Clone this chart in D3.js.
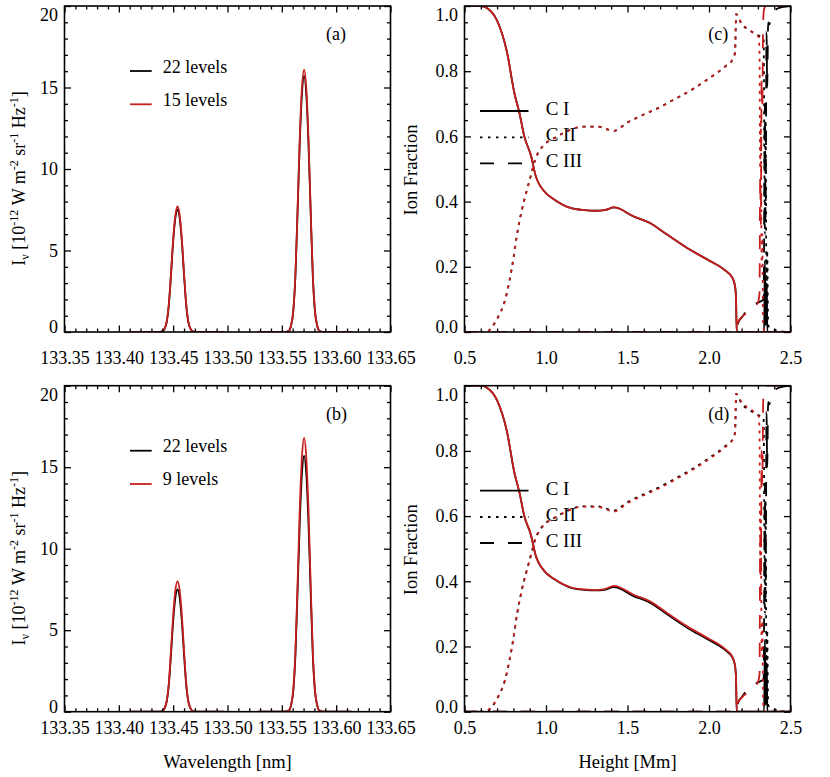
<!DOCTYPE html>
<html>
<head>
<meta charset="utf-8">
<script src="https://cdn.jsdelivr.net/npm/d3@7"></script>
<style>
  body { margin: 0; background: #fff; }
  svg { font-family: "Liberation Serif", "Times New Roman", serif; }
</style>
</head>
<body>
<div class="chart"></div>
<script>
// ---- line profiles, panels (a) and (b) ----
var wave1 = [133.410, 133.436, 133.440, 133.442, 133.444, 133.446, 133.448, 133.450, 133.452, 133.454,
             133.456, 133.458, 133.460, 133.462, 133.464, 133.466, 133.468, 133.472, 133.497];
var wave2 = [133.528, 133.552, 133.5565, 133.5585, 133.5605, 133.5625, 133.5645, 133.5665, 133.5685, 133.5705,
             133.5725, 133.5745, 133.5765, 133.5785, 133.5805, 133.5825, 133.5845, 133.589, 133.614];

var int22Line1 = [0, 0, 0.04, 0.19, 0.60, 1.65, 3.50, 5.55, 6.98, 7.50, 6.98, 5.55, 3.50, 1.65, 0.60, 0.19, 0.04, 0, 0];
var int15Line1 = [0, 0, 0.04, 0.19, 0.62, 1.70, 3.60, 5.70, 7.16, 7.70, 7.16, 5.70, 3.60, 1.70, 0.62, 0.19, 0.04, 0, 0];
var int9Line1  = [0, 0, 0.04, 0.20, 0.64, 1.76, 3.76, 5.92, 7.44, 8.00, 7.44, 5.92, 3.76, 1.76, 0.64, 0.20, 0.04, 0, 0];

var int22Line2 = [0, 0, 0.08, 0.40, 1.25, 3.45, 7.40, 11.60, 14.60, 15.70, 14.60, 11.60, 7.40, 3.45, 1.25, 0.40, 0.08, 0, 0];
var int15Line2 = [0, 0, 0.08, 0.40, 1.29, 3.54, 7.57, 11.90, 14.97, 16.10, 14.97, 11.90, 7.57, 3.54, 1.29, 0.40, 0.08, 0, 0];
var int9Line2  = [0, 0, 0.08, 0.42, 1.34, 3.70, 7.90, 12.43, 15.62, 16.80, 15.62, 12.43, 7.90, 3.70, 1.34, 0.42, 0.08, 0, 0];

// ---- ion fractions [height Mm, fraction], panels (c) and (d) ----
var cI_22 = [[0.50,1.000],[0.60,1.000],[0.64,0.993],[0.70,0.955],[0.76,0.860],[0.806,0.733],[0.837,0.672],
  [0.867,0.600],[0.909,0.539],[0.935,0.482],[0.99,0.431],[1.052,0.406],[1.155,0.380],[1.237,0.374],[1.30,0.372],
  [1.36,0.374],[1.417,0.382],[1.54,0.354],[1.632,0.336],[1.745,0.298],[1.868,0.257],[1.991,0.222],[2.094,0.191],
  [2.145,0.165],[2.160,0.140],[2.166,0.100],[2.170,0.000],[2.338,0.000],[2.343,0.220],[2.348,0.020],
  [2.354,0.150],[2.358,0.000],[2.500,0.000]];
var cII_22 = [[0.50,0],[0.64,0],[0.66,0.010],[0.70,0.040],[0.75,0.100],[0.80,0.225],[0.822,0.298],[0.85,0.370],
  [0.878,0.426],[0.91,0.485],[0.933,0.528],[0.96,0.556],[0.99,0.575],[1.052,0.595],[1.113,0.612],[1.226,0.630],
  [1.32,0.630],[1.417,0.617],[1.50,0.643],[1.60,0.667],[1.70,0.690],[1.80,0.717],[1.90,0.745],[2.00,0.778],
  [2.10,0.815],[2.15,0.840],[2.160,0.860],[2.167,0.975],[2.20,0.945],[2.25,0.925],[2.30,0.910],[2.335,0.900],
  [2.343,0.300],[2.347,0.650],[2.353,0.080],[2.357,0.250],[2.363,0.020],
  [2.380,0.013],[2.420,0.004],[2.500,0.000]];
var cIII_22 = [[0.50,0],[2.170,0],[2.180,0.030],[2.200,0.044],[2.260,0.080],[2.300,0.090],[2.335,0.100],
  [2.343,0.700],[2.347,0.350],[2.353,0.920],[2.357,0.750],[2.363,0.950],
  [2.370,0.943],[2.380,0.963],[2.398,0.983],[2.430,0.994],[2.500,1.000]];

var cI_15 = [[0.50,1.000],[0.60,1.000],[0.64,0.993],[0.70,0.955],[0.76,0.860],[0.806,0.733],[0.837,0.672],
  [0.867,0.600],[0.909,0.539],[0.935,0.482],[0.99,0.431],[1.052,0.406],[1.155,0.380],[1.237,0.374],[1.30,0.372],
  [1.36,0.374],[1.417,0.382],[1.54,0.354],[1.632,0.336],[1.745,0.298],[1.868,0.257],[1.991,0.222],[2.094,0.191],
  [2.145,0.165],[2.160,0.140],[2.166,0.100],[2.170,0.000],[2.500,0.000]];
var cII_15 = [[0.50,0],[0.64,0],[0.66,0.010],[0.70,0.040],[0.75,0.100],[0.80,0.225],[0.822,0.298],[0.85,0.370],
  [0.878,0.426],[0.91,0.485],[0.933,0.528],[0.96,0.556],[0.99,0.575],[1.052,0.595],[1.113,0.612],[1.226,0.630],
  [1.32,0.630],[1.417,0.617],[1.50,0.643],[1.60,0.667],[1.70,0.690],[1.80,0.717],[1.90,0.745],[2.00,0.778],
  [2.10,0.815],[2.15,0.840],[2.160,0.860],[2.166,0.975],[2.19,0.955],[2.23,0.932],[2.28,0.915],[2.305,0.905],
  [2.310,0.850],[2.314,0.500],[2.318,0.650],[2.323,0.200],[2.327,0.300],[2.332,0.030],
  [2.340,0.000],[2.500,0.000]];
var cIII_15 = [[0.50,0],[2.170,0],[2.176,0.028],[2.200,0.045],[2.250,0.066],[2.300,0.090],[2.310,0.120],
  [2.314,0.480],[2.318,0.330],[2.323,0.780],[2.327,0.680],[2.332,0.950],[2.338,0.990],[2.348,1.000],[2.500,1.000]];

var cI_9 = [[0.50,1.000],[0.60,1.000],[0.64,0.993],[0.70,0.955],[0.76,0.861],[0.806,0.734],[0.837,0.673],
  [0.867,0.601],[0.909,0.540],[0.935,0.483],[0.99,0.432],[1.052,0.407],[1.155,0.381],[1.237,0.375],[1.30,0.373],
  [1.36,0.376],[1.417,0.386],[1.54,0.358],[1.632,0.340],[1.745,0.302],[1.868,0.261],[1.991,0.226],[2.094,0.194],
  [2.145,0.167],[2.160,0.141],[2.166,0.100],[2.170,0.000],[2.500,0.000]];
var cII_9 = [[0.50,0],[0.63,0],[0.65,0.008],[0.70,0.040],[0.75,0.100],[0.80,0.224],[0.822,0.297],[0.85,0.369],
  [0.878,0.425],[0.91,0.484],[0.933,0.527],[0.96,0.555],[0.99,0.574],[1.052,0.594],[1.113,0.611],[1.226,0.629],
  [1.32,0.628],[1.417,0.614],[1.50,0.640],[1.60,0.664],[1.70,0.687],[1.80,0.714],[1.90,0.742],[2.00,0.775],
  [2.10,0.812],[2.15,0.838],[2.160,0.858],[2.166,0.975],[2.19,0.957],[2.23,0.935],[2.28,0.918],[2.305,0.905],
  [2.310,0.860],[2.314,0.450],[2.318,0.620],[2.323,0.180],[2.327,0.280],[2.333,0.020],
  [2.340,0.000],[2.500,0.000]];
var cIII_9 = [[0.50,0],[2.170,0],[2.176,0.027],[2.200,0.043],[2.250,0.064],[2.300,0.090],[2.310,0.115],
  [2.314,0.530],[2.318,0.360],[2.323,0.800],[2.327,0.700],[2.333,0.960],[2.339,0.992],[2.348,1.000],[2.500,1.000]];

// ---- ticks ----
var waveTicks = [133.35, 133.40, 133.45, 133.50, 133.55, 133.60, 133.65];
var intensityTicks = [0, 5, 10, 15, 20];
var heightTicks = [0.5, 1.0, 1.5, 2.0, 2.5];
var fractionTicks = [0.0, 0.2, 0.4, 0.6, 0.8, 1.0];

var waveMinor = d3.range(31).filter(i => i % 5).map(i => 133.35 + i * 0.01);
var intensityMinor = d3.range(21).filter(i => i % 5);
var heightMinor = d3.range(21).filter(i => i % 5).map(i => 0.5 + i * 0.1);
var fractionMinor = d3.range(21).filter(i => i % 4).map(i => i * 0.05);

var svgWidth = 830, svgHeight = 777;
var size = 326;
var redColor = "#c81e1e";
var font = "'Liberation Serif', 'Times New Roman', serif";

var svg = d3.select(".chart").append("svg")
  .attr("width", svgWidth)
  .attr("height", svgHeight);

var leftCols = [64.5, 464.5];
var topRows = [6, 385.7];

// draws inward ticks on all four sides plus the frame
function drawAxes(g, x, y, xMajor, xMinor, yMajor, yMinor, xFmt, yFmt, xPad) {
  function style(ax) {
    ax.select(".domain").remove();
    ax.attr("font-size", 18).attr("font-family", font);
    ax.selectAll("line").attr("stroke", "#000").attr("stroke-width", 1.3);
    ax.selectAll("text").attr("fill", "#000");
    return ax;
  }
  style(g.append("g").attr("transform", `translate(0,${size})`)
    .call(d3.axisBottom(x).tickValues(xMajor).tickFormat(xFmt).tickSizeInner(-6.5).tickSizeOuter(0).tickPadding(xPad)));
  style(g.append("g").attr("transform", `translate(0,${size})`)
    .call(d3.axisBottom(x).tickValues(xMinor).tickFormat("").tickSizeInner(-3.5).tickSizeOuter(0)));
  style(g.append("g")
    .call(d3.axisTop(x).tickValues(xMajor).tickFormat("").tickSizeInner(-6.5).tickSizeOuter(0)));
  style(g.append("g")
    .call(d3.axisTop(x).tickValues(xMinor).tickFormat("").tickSizeInner(-3.5).tickSizeOuter(0)));

  var yAx = style(g.append("g")
    .call(d3.axisLeft(y).tickValues(yMajor).tickFormat(yFmt).tickSizeInner(-6.5).tickSizeOuter(0).tickPadding(6.5)));
  // keep the end labels inside the frame height, as in the original
  yAx.selectAll("text").attr("transform", (d, i) =>
    i === 0 ? "translate(0,-5)" : (i === yMajor.length - 1 ? "translate(0,9)" : null));
  style(g.append("g")
    .call(d3.axisLeft(y).tickValues(yMinor).tickFormat("").tickSizeInner(-3.5).tickSizeOuter(0)));
  style(g.append("g").attr("transform", `translate(${size},0)`)
    .call(d3.axisRight(y).tickValues(yMajor).tickFormat("").tickSizeInner(-6.5).tickSizeOuter(0)));
  style(g.append("g").attr("transform", `translate(${size},0)`)
    .call(d3.axisRight(y).tickValues(yMinor).tickFormat("").tickSizeInner(-3.5).tickSizeOuter(0)));

  g.append("rect")
    .attr("width", size).attr("height", size)
    .attr("fill", "none").attr("stroke", "#000").attr("stroke-width", 1.6);
}

function addClip(g, id) {
  svg.append("clipPath").attr("id", id)
    .append("rect").attr("width", size).attr("height", size);
  return g.append("g").attr("clip-path", `url(#${id})`);
}

// ---- profile panels ----
var profilePanels = [
  { tag: "(a)", left: leftCols[0], top: topRows[0], red1: int15Line1, red2: int15Line2, redLabel: "15 levels", xPad: 19, bottom: false },
  { tag: "(b)", left: leftCols[0], top: topRows[1], red1: int9Line1, red2: int9Line2, redLabel: "9 levels", xPad: 10, bottom: true }
];

var xWave = d3.scaleLinear().domain([133.35, 133.65]).range([0, size]);
var yInt = d3.scaleLinear().domain([0, 20]).range([size, 0]);

var profLine = d3.line()
  .x(d => xWave(d[0]))
  .y(d => yInt(d[1]))
  .curve(d3.curveMonotoneX);

profilePanels.forEach(function (p, k) {
  var g = svg.append("g").attr("transform", `translate(${p.left},${p.top})`);
  var plot = addClip(g, "clipP" + k);

  var series = [
    { w: wave1, v: int22Line1, c: "#000" },
    { w: wave2, v: int22Line2, c: "#000" },
    { w: wave1, v: p.red1, c: redColor },
    { w: wave2, v: p.red2, c: redColor }
  ];
  series.forEach(function (s) {
    plot.append("path")
      .datum(s.w.map((w, i) => [w, s.v[i]]))
      .attr("d", profLine)
      .attr("fill", "none")
      .attr("stroke", s.c)
      .attr("stroke-width", 1.8);
  });

  drawAxes(g, xWave, yInt, waveTicks, waveMinor, intensityTicks, intensityMinor,
    d3.format(".2f"), d3.format("d"), p.xPad);

  // legend
  [["22 levels", "#000", 65], [p.redLabel, redColor, 98.3]].forEach(function (l) {
    g.append("line")
      .attr("x1", 65.5).attr("x2", 87.2).attr("y1", l[2]).attr("y2", l[2])
      .attr("stroke", l[1]).attr("stroke-width", 1.8);
    g.append("text")
      .attr("x", 98.2).attr("y", l[2] + 1.5)
      .attr("font-size", 18).text(l[0]);
  });

  g.append("text").attr("x", 261.5).attr("y", 34).attr("font-size", 18).text(p.tag);

  // y title with super/subscripts
  var t = g.append("text")
    .attr("transform", `translate(-39.5,${172.5}) rotate(-90)`)
    .attr("text-anchor", "middle")
    .attr("font-size", 18);
  t.append("tspan").text("I");
  t.append("tspan").attr("font-size", 12).attr("dy", 4).text("ν");
  t.append("tspan").attr("dy", -4).text(" [10");
  t.append("tspan").attr("font-size", 12).attr("dy", -7).text("-12");
  t.append("tspan").attr("dy", 7).text(" W m");
  t.append("tspan").attr("font-size", 12).attr("dy", -7).text("-2");
  t.append("tspan").attr("dy", 7).text(" sr");
  t.append("tspan").attr("font-size", 12).attr("dy", -7).text("-1");
  t.append("tspan").attr("dy", 7).text(" Hz");
  t.append("tspan").attr("font-size", 12).attr("dy", -7).text("-1");
  t.append("tspan").attr("dy", 7).text("]");

  if (p.bottom) {
    g.append("text")
      .attr("x", size / 2).attr("y", 382.3)
      .attr("text-anchor", "middle").attr("font-size", 18.5)
      .text("Wavelength [nm]");
  }
});

// ---- ion fraction panels ----
var ionPanels = [
  { tag: "(c)", left: leftCols[1], top: topRows[0], redI: cI_15, redII: cII_15, redIII: cIII_15, xPad: 19, bottom: false },
  { tag: "(d)", left: leftCols[1], top: topRows[1], redI: cI_9, redII: cII_9, redIII: cIII_9, xPad: 10, bottom: true }
];

var xH = d3.scaleLinear().domain([0.5, 2.5]).range([0, size]);
var yF = d3.scaleLinear().domain([0, 1]).range([size, 0]);

var ionLine = d3.line()
  .x(d => xH(d[0]))
  .y(d => yF(d[1]))
  .curve(d3.curveMonotoneX);

var dotDash = "3,5";
var longDash = "14,14";

ionPanels.forEach(function (p, k) {
  var g = svg.append("g").attr("transform", `translate(${p.left},${p.top})`);
  var plot = addClip(g, "clipI" + k);

  var series = [
    { d: cI_22, c: "#000", dash: null },
    { d: cII_22, c: "#000", dash: dotDash },
    { d: cIII_22, c: "#000", dash: longDash },
    { d: p.redI, c: redColor, dash: null },
    { d: p.redII, c: redColor, dash: dotDash },
    { d: p.redIII, c: redColor, dash: longDash }
  ];
  series.forEach(function (s) {
    plot.append("path")
      .datum(s.d)
      .attr("d", ionLine)
      .attr("fill", "none")
      .attr("stroke", s.c)
      .attr("stroke-width", 1.8)
      .attr("stroke-dasharray", s.dash);
  });

  drawAxes(g, xH, yF, heightTicks, heightMinor, fractionTicks, fractionMinor,
    d3.format(".1f"), d3.format(".1f"), p.xPad);

  // legend
  [["C I", null, 105], ["C II", "2.5,5.5", 131.3], ["C III", longDash, 157.3]].forEach(function (l) {
    g.append("line")
      .attr("x1", 15.5).attr("x2", 64).attr("y1", l[2]).attr("y2", l[2])
      .attr("stroke", "#000").attr("stroke-width", 1.8)
      .attr("stroke-dasharray", l[1]);
    g.append("text")
      .attr("x", 81.2).attr("y", l[2] + 4)
      .attr("font-size", 19).text(l[0]);
  });

  g.append("text").attr("x", 243.8).attr("y", 34).attr("font-size", 18).text(p.tag);

  g.append("text")
    .attr("transform", `translate(-47.5,164) rotate(-90)`)
    .attr("text-anchor", "middle").attr("font-size", 18.5)
    .text("Ion Fraction");

  if (p.bottom) {
    g.append("text")
      .attr("x", size / 2).attr("y", 382.3)
      .attr("text-anchor", "middle").attr("font-size", 18.5)
      .text("Height [Mm]");
  }
});
</script>
</body>
</html>
